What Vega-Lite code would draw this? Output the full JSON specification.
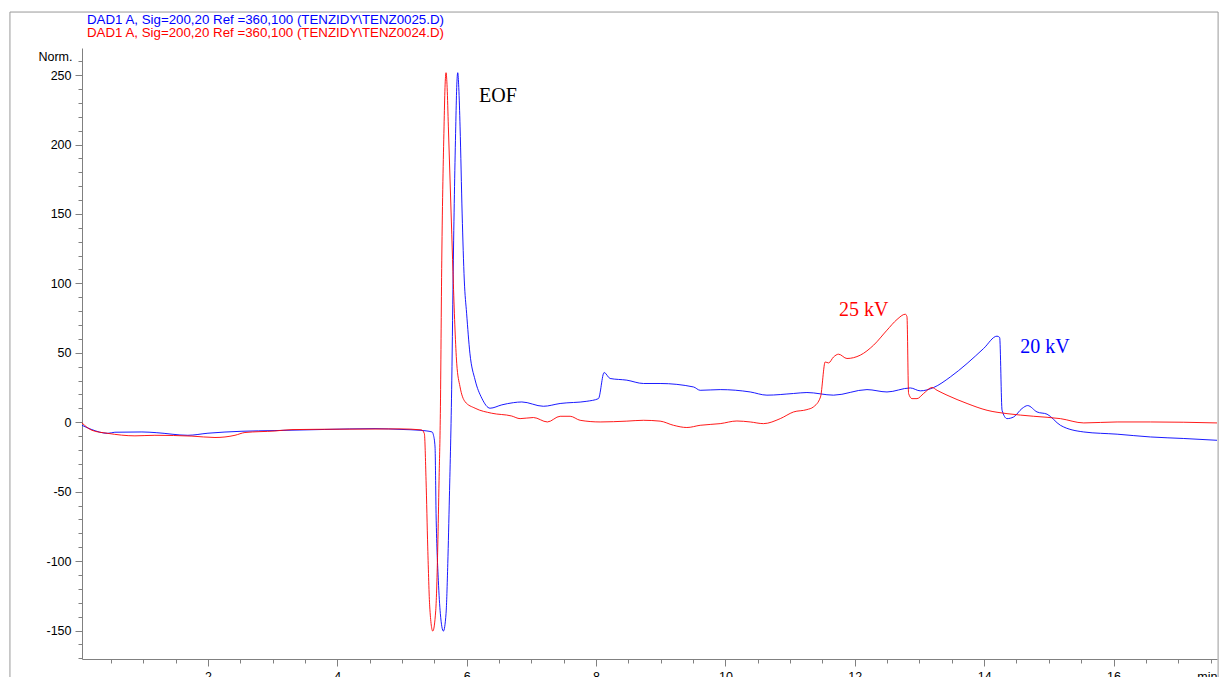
{
  "$schema": "https://vega.github.io/schema/vega-lite/v6.json",
  "autosize": {"type": "none"},
  "width": 1135,
  "height": 611,
  "padding": {"left": 82, "top": 48, "right": 4, "bottom": 18},
  "background": "white",
  "config": {"view": {"stroke": null}, "font": "Liberation Sans"},
  "title": {
    "text": "DAD1 A, Sig=200,20 Ref =360,100 (TENZIDY\\TENZ0025.D)",
    "subtitle": "DAD1 A, Sig=200,20 Ref =360,100 (TENZIDY\\TENZ0024.D)",
    "anchor": "start",
    "frame": "group",
    "color": "#0000ff",
    "subtitleColor": "#ff0000",
    "font": "Liberation Sans",
    "subtitleFont": "Liberation Sans",
    "fontSize": 13.3,
    "subtitleFontSize": 13.3,
    "fontWeight": "normal",
    "subtitlePadding": 0,
    "offset": 8,
    "dx": 5,
    "dy": 36
  },
  "datasets": {
    "traces": [
      {"s": "20 kV", "t": 0.053, "v": -2.2},
      {"s": "20 kV", "t": 0.206, "v": -5.3},
      {"s": "20 kV", "t": 0.453, "v": -8},
      {"s": "20 kV", "t": 0.561, "v": -7.2},
      {"s": "20 kV", "t": 0.979, "v": -7},
      {"s": "20 kV", "t": 1.2, "v": -7.5},
      {"s": "20 kV", "t": 1.69, "v": -9.4},
      {"s": "20 kV", "t": 2.0, "v": -7.9},
      {"s": "20 kV", "t": 2.526, "v": -6.5},
      {"s": "20 kV", "t": 3.036, "v": -6},
      {"s": "20 kV", "t": 3.8, "v": -5.2},
      {"s": "20 kV", "t": 4.583, "v": -4.6},
      {"s": "20 kV", "t": 5.0, "v": -5.2},
      {"s": "20 kV", "t": 5.279, "v": -5.8},
      {"s": "20 kV", "t": 5.465, "v": -7},
      {"s": "20 kV", "t": 5.485, "v": -9},
      {"s": "20 kV", "t": 5.511, "v": -17.8},
      {"s": "20 kV", "t": 5.527, "v": -65.8},
      {"s": "20 kV", "t": 5.562, "v": -113.8},
      {"s": "20 kV", "t": 5.593, "v": -137.8},
      {"s": "20 kV", "t": 5.64, "v": -150.4},
      {"s": "20 kV", "t": 5.681, "v": -137.8},
      {"s": "20 kV", "t": 5.708, "v": -101.8},
      {"s": "20 kV", "t": 5.733, "v": -53.8},
      {"s": "20 kV", "t": 5.77, "v": 30.3},
      {"s": "20 kV", "t": 5.794, "v": 116.7},
      {"s": "20 kV", "t": 5.831, "v": 212.7},
      {"s": "20 kV", "t": 5.846, "v": 241},
      {"s": "20 kV", "t": 5.862, "v": 251.7},
      {"s": "20 kV", "t": 5.878, "v": 241},
      {"s": "20 kV", "t": 5.898, "v": 212.7},
      {"s": "20 kV", "t": 5.93, "v": 150},
      {"s": "20 kV", "t": 5.963, "v": 102.4},
      {"s": "20 kV", "t": 5.999, "v": 78.5},
      {"s": "20 kV", "t": 6.05, "v": 49.7},
      {"s": "20 kV", "t": 6.13, "v": 30.5},
      {"s": "20 kV", "t": 6.234, "v": 17.3},
      {"s": "20 kV", "t": 6.362, "v": 10.1},
      {"s": "20 kV", "t": 6.543, "v": 12.5},
      {"s": "20 kV", "t": 6.722, "v": 14.1},
      {"s": "20 kV", "t": 6.852, "v": 14.6},
      {"s": "20 kV", "t": 7.186, "v": 11.5},
      {"s": "20 kV", "t": 7.445, "v": 13.5},
      {"s": "20 kV", "t": 7.858, "v": 15.1},
      {"s": "20 kV", "t": 8.037, "v": 17},
      {"s": "20 kV", "t": 8.125, "v": 35.8},
      {"s": "20 kV", "t": 8.218, "v": 31.5},
      {"s": "20 kV", "t": 8.476, "v": 30.3},
      {"s": "20 kV", "t": 8.733, "v": 27.9},
      {"s": "20 kV", "t": 8.991, "v": 27.9},
      {"s": "20 kV", "t": 9.507, "v": 25.4},
      {"s": "20 kV", "t": 9.61, "v": 23},
      {"s": "20 kV", "t": 9.92, "v": 23.5},
      {"s": "20 kV", "t": 10.384, "v": 21.8},
      {"s": "20 kV", "t": 10.642, "v": 19.5},
      {"s": "20 kV", "t": 11.053, "v": 20.7},
      {"s": "20 kV", "t": 11.26, "v": 21.4},
      {"s": "20 kV", "t": 11.672, "v": 19.5},
      {"s": "20 kV", "t": 12.189, "v": 23.5},
      {"s": "20 kV", "t": 12.498, "v": 21.8},
      {"s": "20 kV", "t": 12.858, "v": 24.7},
      {"s": "20 kV", "t": 13.013, "v": 22.6},
      {"s": "20 kV", "t": 13.219, "v": 25},
      {"s": "20 kV", "t": 13.477, "v": 32.6},
      {"s": "20 kV", "t": 13.736, "v": 42.3},
      {"s": "20 kV", "t": 13.992, "v": 53.1},
      {"s": "20 kV", "t": 14.199, "v": 62},
      {"s": "20 kV", "t": 14.24, "v": 61},
      {"s": "20 kV", "t": 14.277, "v": 8.6},
      {"s": "20 kV", "t": 14.354, "v": 2.6},
      {"s": "20 kV", "t": 14.456, "v": 3.8},
      {"s": "20 kV", "t": 14.586, "v": 9.9},
      {"s": "20 kV", "t": 14.673, "v": 12},
      {"s": "20 kV", "t": 14.818, "v": 7.4},
      {"s": "20 kV", "t": 14.973, "v": 5.8},
      {"s": "20 kV", "t": 15.179, "v": -2.2},
      {"s": "20 kV", "t": 15.54, "v": -7},
      {"s": "20 kV", "t": 16.056, "v": -8.6},
      {"s": "20 kV", "t": 16.571, "v": -10.6},
      {"s": "20 kV", "t": 17.086, "v": -11.7},
      {"s": "20 kV", "t": 17.6, "v": -13},
      {"s": "25 kV", "t": 0.053, "v": -0.5},
      {"s": "25 kV", "t": 0.206, "v": -5.8},
      {"s": "25 kV", "t": 0.453, "v": -8},
      {"s": "25 kV", "t": 0.871, "v": -9.8},
      {"s": "25 kV", "t": 1.18, "v": -9.4},
      {"s": "25 kV", "t": 1.753, "v": -10},
      {"s": "25 kV", "t": 2.109, "v": -11},
      {"s": "25 kV", "t": 2.418, "v": -9.4},
      {"s": "25 kV", "t": 2.572, "v": -7.4},
      {"s": "25 kV", "t": 3.036, "v": -6.3},
      {"s": "25 kV", "t": 3.299, "v": -5.3},
      {"s": "25 kV", "t": 4.04, "v": -5},
      {"s": "25 kV", "t": 4.97, "v": -4.8},
      {"s": "25 kV", "t": 5.3, "v": -5.5},
      {"s": "25 kV", "t": 5.346, "v": -8.2},
      {"s": "25 kV", "t": 5.372, "v": -41.8},
      {"s": "25 kV", "t": 5.398, "v": -89.8},
      {"s": "25 kV", "t": 5.429, "v": -133},
      {"s": "25 kV", "t": 5.476, "v": -150.4},
      {"s": "25 kV", "t": 5.522, "v": -135.4},
      {"s": "25 kV", "t": 5.553, "v": -89.8},
      {"s": "25 kV", "t": 5.573, "v": -41.8},
      {"s": "25 kV", "t": 5.593, "v": 6.2},
      {"s": "25 kV", "t": 5.615, "v": 116.7},
      {"s": "25 kV", "t": 5.65, "v": 212.7},
      {"s": "25 kV", "t": 5.665, "v": 241},
      {"s": "25 kV", "t": 5.681, "v": 251.7},
      {"s": "25 kV", "t": 5.698, "v": 241},
      {"s": "25 kV", "t": 5.717, "v": 212.7},
      {"s": "25 kV", "t": 5.77, "v": 135},
      {"s": "25 kV", "t": 5.794, "v": 100},
      {"s": "25 kV", "t": 5.82, "v": 66.4},
      {"s": "25 kV", "t": 5.846, "v": 42.5},
      {"s": "25 kV", "t": 5.897, "v": 25.6},
      {"s": "25 kV", "t": 5.975, "v": 14.8},
      {"s": "25 kV", "t": 6.13, "v": 10.1},
      {"s": "25 kV", "t": 6.386, "v": 6.5},
      {"s": "25 kV", "t": 6.695, "v": 4.5},
      {"s": "25 kV", "t": 6.826, "v": 2.6},
      {"s": "25 kV", "t": 7.032, "v": 3.4},
      {"s": "25 kV", "t": 7.248, "v": 0.2},
      {"s": "25 kV", "t": 7.445, "v": 4.3},
      {"s": "25 kV", "t": 7.6, "v": 4.3},
      {"s": "25 kV", "t": 7.754, "v": 1.4},
      {"s": "25 kV", "t": 8.064, "v": 0.2},
      {"s": "25 kV", "t": 8.476, "v": 0.8},
      {"s": "25 kV", "t": 8.733, "v": 1.4},
      {"s": "25 kV", "t": 8.991, "v": 0.8},
      {"s": "25 kV", "t": 9.197, "v": -2.2},
      {"s": "25 kV", "t": 9.404, "v": -3.8},
      {"s": "25 kV", "t": 9.61, "v": -2.2},
      {"s": "25 kV", "t": 9.92, "v": -1},
      {"s": "25 kV", "t": 10.178, "v": 0.9},
      {"s": "25 kV", "t": 10.384, "v": 0.2},
      {"s": "25 kV", "t": 10.589, "v": -1},
      {"s": "25 kV", "t": 10.848, "v": 2.6},
      {"s": "25 kV", "t": 11.053, "v": 7.4},
      {"s": "25 kV", "t": 11.26, "v": 9.1},
      {"s": "25 kV", "t": 11.36, "v": 11},
      {"s": "25 kV", "t": 11.47, "v": 18.2},
      {"s": "25 kV", "t": 11.543, "v": 43.4},
      {"s": "25 kV", "t": 11.595, "v": 42.7},
      {"s": "25 kV", "t": 11.672, "v": 47},
      {"s": "25 kV", "t": 11.75, "v": 49},
      {"s": "25 kV", "t": 11.879, "v": 45.9},
      {"s": "25 kV", "t": 12.085, "v": 48.3},
      {"s": "25 kV", "t": 12.291, "v": 55.5},
      {"s": "25 kV", "t": 12.498, "v": 66.3},
      {"s": "25 kV", "t": 12.653, "v": 74},
      {"s": "25 kV", "t": 12.781, "v": 77.8},
      {"s": "25 kV", "t": 12.807, "v": 76},
      {"s": "25 kV", "t": 12.832, "v": 20.7},
      {"s": "25 kV", "t": 12.885, "v": 17},
      {"s": "25 kV", "t": 12.962, "v": 17},
      {"s": "25 kV", "t": 13.064, "v": 20.7},
      {"s": "25 kV", "t": 13.194, "v": 25},
      {"s": "25 kV", "t": 13.272, "v": 23},
      {"s": "25 kV", "t": 13.426, "v": 19.5},
      {"s": "25 kV", "t": 13.736, "v": 13.5},
      {"s": "25 kV", "t": 14.045, "v": 8.6},
      {"s": "25 kV", "t": 14.354, "v": 6.2},
      {"s": "25 kV", "t": 14.766, "v": 4.3},
      {"s": "25 kV", "t": 15.179, "v": 2.6},
      {"s": "25 kV", "t": 15.54, "v": -0.5},
      {"s": "25 kV", "t": 16.056, "v": 0.2},
      {"s": "25 kV", "t": 16.571, "v": 0.2},
      {"s": "25 kV", "t": 17.086, "v": 0},
      {"s": "25 kV", "t": 17.6, "v": -0.5}
    ],
    "notes": [
      {"label": "EOF", "s": "EOF", "t": 6.484, "v": 234.9},
      {"label": "25 kV", "s": "25 kV", "t": 12.14, "v": 80.8},
      {"label": "20 kV", "s": "20 kV", "t": 14.94, "v": 54.2}
    ]
  },
  "layer": [
    {
      "data": {"values": [{}]},
      "mark": {"type": "rect", "fillOpacity": 0, "stroke": "#999999", "strokeWidth": 1, "clip": false},
      "encoding": {
        "x": {
          "datum": -1.061, "type": "quantitative",
          "scale": {"domain": [0.053, 17.6], "nice": false, "zero": false},
          "axis": {
            "orient": "bottom", "title": null, "labels": false, "domain": false, "grid": false,
            "tickSize": 4, "tickColor": "#808080",
            "values": [0.5, 1, 1.5, 2, 2.5, 3, 3.5, 4, 4.5, 5, 5.5, 6, 6.5, 7, 7.5, 8, 8.5, 9, 9.5, 10, 10.5, 11, 11.5, 12, 12.5, 13, 13.5, 14, 14.5, 15, 15.5, 16, 16.5, 17, 17.5]
          }
        },
        "x2": {"datum": 17.617},
        "y": {
          "datum": 295.4, "type": "quantitative",
          "scale": {"domain": [-170.5, 269.5], "nice": false, "zero": false},
          "axis": {
            "orient": "left", "title": null, "labels": false, "domain": false, "grid": false,
            "tickSize": 4, "tickColor": "#808080",
            "values": [-170, -160, -150, -140, -130, -120, -110, -100, -90, -80, -70, -60, -50, -40, -30, -20, -10, 0, 10, 20, 30, 40, 50, 60, 70, 80, 90, 100, 110, 120, 130, 140, 150, 160, 170, 180, 190, 200, 210, 220, 230, 240, 250, 260]
          }
        },
        "y2": {"datum": -200}
      }
    },
    {
      "data": {"name": "traces"},
      "mark": {"type": "line", "strokeWidth": 0.9, "interpolate": "monotone", "clip": true},
      "encoding": {
        "x": {
          "field": "t", "type": "quantitative",
          "scale": {"domain": [0.053, 17.6], "nice": false, "zero": false},
          "axis": {
            "orient": "bottom", "values": [2, 4, 6, 8, 10, 12, 14, 16],
            "grid": false, "tickSize": 7, "labelPadding": 4, "labelFontSize": 12.5,
            "labelColor": "#000000", "labelFont": "Liberation Sans", "labelFlush": false,
            "domainColor": "#808080", "tickColor": "#808080",
            "title": "min", "titleAngle": 0, "titleX": 1135, "titleY": 11,
            "titleAlign": "right", "titleBaseline": "top", "titleFontWeight": "normal",
            "titleFontSize": 12.5, "titleColor": "#000000", "titleFont": "Liberation Sans"
          }
        },
        "y": {
          "field": "v", "type": "quantitative",
          "scale": {"domain": [-170.5, 269.5], "nice": false, "zero": false},
          "axis": {
            "orient": "left", "values": [-150, -100, -50, 0, 50, 100, 150, 200, 250],
            "labelExpr": "datum.value + ''",
            "grid": false, "tickSize": 7, "labelPadding": 4, "labelFontSize": 12.5,
            "labelColor": "#000000", "labelFont": "Liberation Sans", "labelFlush": false,
            "domainColor": "#808080", "tickColor": "#808080",
            "title": "Norm.", "titleAngle": 0, "titleX": -10, "titleY": 8,
            "titleAlign": "right", "titleBaseline": "middle", "titleFontWeight": "normal",
            "titleFontSize": 12.5, "titleColor": "#000000", "titleFont": "Liberation Sans"
          }
        },
        "color": {
          "field": "s", "type": "nominal",
          "scale": {"domain": ["20 kV", "25 kV", "EOF"], "range": ["#0000ff", "#ff0000", "#000000"]},
          "legend": null
        }
      }
    },
    {
      "data": {"name": "notes"},
      "mark": {"type": "text", "font": "Liberation Serif", "fontSize": 20, "align": "center", "baseline": "middle"},
      "encoding": {
        "x": {"field": "t", "type": "quantitative", "axis": null},
        "y": {"field": "v", "type": "quantitative", "axis": null},
        "text": {"field": "label"},
        "color": {"field": "s", "type": "nominal", "legend": null}
      }
    }
  ],
  "resolve": {"axis": {"x": "independent", "y": "independent"}}
}
